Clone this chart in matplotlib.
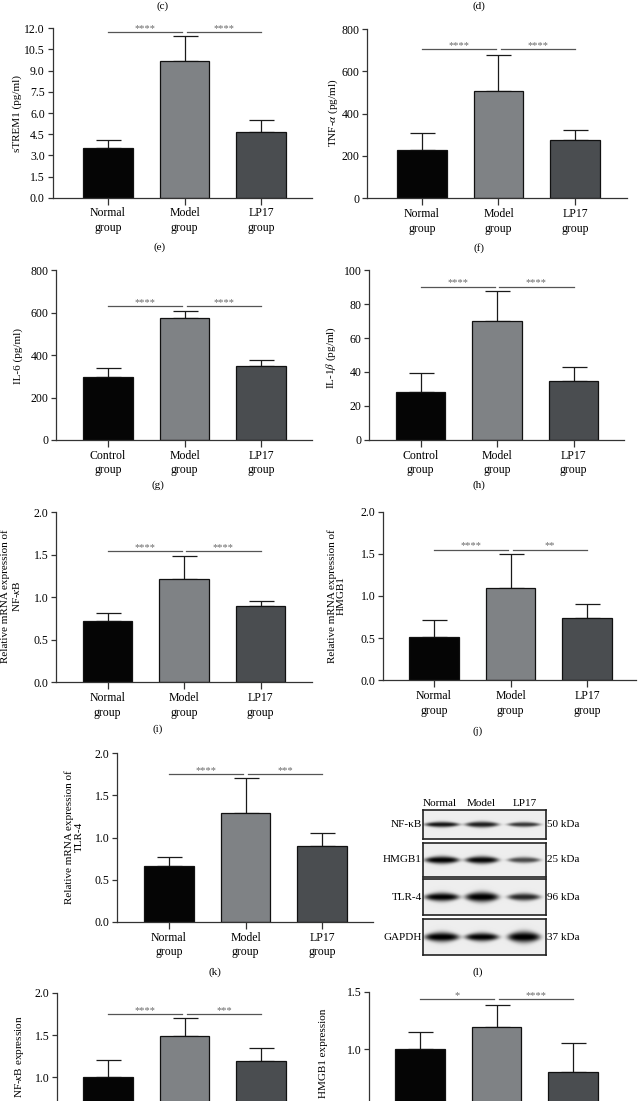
import numpy as np
import matplotlib
matplotlib.use("Agg")
import matplotlib.pyplot as plt

W, H = 638, 1101
DPI = 100
plt.rcParams['font.family'] = ['Liberation Serif', 'DejaVu Serif']
plt.rcParams['mathtext.fontset'] = 'stix'

# ---------------- data ----------------
labels_normal = ["Normal\ngroup", "Model\ngroup", "LP17\ngroup"]
labels_control = ["Control\ngroup", "Model\ngroup", "LP17\ngroup"]

strem1_mean = [3.55, 9.70, 4.67]
strem1_sd = [0.57, 1.73, 0.83]
tnf_mean = [230, 508, 275]
tnf_sd = [78, 168, 48]
il6_mean = [298, 573, 346]
il6_sd = [39, 32, 30]
il1b_mean = [28.2, 70.2, 34.8]
il1b_sd = [11.4, 17.4, 8.3]
nfkb_mrna_mean = [0.72, 1.21, 0.90]
nfkb_mrna_sd = [0.095, 0.28, 0.06]
hmgb1_mrna_mean = [0.515, 1.09, 0.743]
hmgb1_mrna_sd = [0.205, 0.41, 0.157]
tlr4_mrna_mean = [0.665, 1.295, 0.895]
tlr4_mrna_sd = [0.11, 0.415, 0.16]
nfkb_prot_mean = [1.0, 1.49, 1.19]
nfkb_prot_sd = [0.20, 0.21, 0.155]
hmgb1_prot_mean = [1.0, 1.19, 0.80]
hmgb1_prot_sd = [0.15, 0.20, 0.25]

# significance bars: level, left label, right label
sig_strem1 = (11.73, "****", "****")
sig_tnf = (706, "****", "****")
sig_il6 = (629, "****", "****")
sig_il1b = (90.2, "****", "****")
sig_nfkb_mrna = (1.545, "****", "****")
sig_hmgb1_mrna = (1.55, "****", "**")
sig_tlr4_mrna = (1.75, "****", "***")
sig_nfkb_prot = (1.75, "****", "***")
sig_hmgb1_prot = (1.44, "*", "****")

# western blot
blot_proteins = ["NF-κB", "HMGB1", "TLR-4", "GAPDH"]
blot_kda = ["50 kDa", "25 kDa", "96 kDa", "37 kDa"]
blot_lanes = ["Normal", "Model", "LP17"]
blot_intensity = [[0.90, 0.86, 0.76],
                  [0.98, 0.96, 0.68],
                  [0.98, 1.00, 0.82],
                  [1.00, 0.98, 1.00]]
blot_thickness = [[5.5, 6.0, 5.0],
                  [7.5, 7.5, 6.0],
                  [8.5, 10.0, 7.5],
                  [9.5, 8.5, 11.0]]

bar_colors = ["#050505", "#7f8285", "#4a4d50"]

# ---------------- helpers ----------------
fig = plt.figure(figsize=(W / DPI, H / DPI), dpi=DPI)
fig.patch.set_facecolor("white")

FS_T = 8.5   # tick labels
FS_L = 8.0   # axis labels / other text
PXU = 76.5   # pixels per category unit


def fx(x):
    return x / W


def fy(y):
    return 1 - y / H


def bar_panel(x_axis, c0, x_right, top, bottom, ymax, step, fmt,
              means, sds, labels, sig, show_xlabels=True):
    left_u = -(c0 - x_axis) / PXU
    right_u = 2 + (x_right - c0 - 2 * PXU) / PXU
    ax = fig.add_axes([fx(x_axis), fy(bottom), (x_right - x_axis) / W,
                       (bottom - top) / H])
    ax.set_xlim(left_u, right_u)
    ax.set_ylim(0, ymax)
    xs = np.arange(len(means))
    ax.bar(xs, means, width=0.65, color=bar_colors, edgecolor="#111111",
           linewidth=0.9, zorder=2)
    ax.errorbar(xs, means, yerr=[np.zeros(len(sds)), sds], fmt="none",
                ecolor="#1a1a1a", elinewidth=0.9, capsize=9, capthick=0.9,
                zorder=1)
    for s in ["top", "right"]:
        ax.spines[s].set_visible(False)
    for s in ["left", "bottom"]:
        ax.spines[s].set_linewidth(0.9)
        ax.spines[s].set_color("#333333")
    ticks = np.arange(0, ymax + step / 2, step)
    ax.set_yticks(ticks)
    tlabels = []
    for t in ticks:
        ypix = bottom - t / ymax * (bottom - top)
        tlabels.append(fmt.format(t) if ypix < H - 5 else "")
    ax.set_yticklabels(tlabels)
    ax.set_xticks(xs)
    if show_xlabels:
        ax.set_xticklabels(labels, linespacing=1.3)
    else:
        ax.set_xticklabels([])
    ax.tick_params(axis="y", length=3.5, width=0.9, pad=2, labelsize=FS_T,
                   color="#333333")
    ax.tick_params(axis="x", length=5, width=0.9, pad=2.0, labelsize=FS_T,
                   color="#333333")
    ax.patch.set_alpha(0)
    lvl, l1, l2 = sig
    ax.plot([0, 0.97], [lvl, lvl], color="#555555", lw=0.9, clip_on=False)
    ax.plot([1.03, 2.0], [lvl, lvl], color="#555555", lw=0.9, clip_on=False)
    for xm, lab in [(0.485, l1), (1.515, l2)]:
        ax.annotate(lab, xy=(xm, lvl), xytext=(0, 0.8),
                    textcoords="offset points", ha="center", va="baseline",
                    fontsize=7.5, color="#6a6a6a", annotation_clip=False)
    return ax


def ylab(x, y, s):
    fig.text(fx(x), fy(y), s, rotation=90, ha="center", va="center",
             fontsize=FS_L, linespacing=1.05)


def plab(x, y, s):
    fig.text(fx(x), fy(y), s, ha="center", va="center", fontsize=FS_L)


# ---------------- panels ----------------
bar_panel(52.5, 108, 312, 28.3, 197.7, 12.0, 1.5, "{:.1f}",
          strem1_mean, strem1_sd, labels_normal, sig_strem1)
ylab(17, 113, "sTREM1 (pg/ml)")

bar_panel(367, 422, 627, 29, 198.3, 800, 200, "{:.0f}",
          tnf_mean, tnf_sd, labels_normal, sig_tnf)
ylab(333, 113, r"TNF-$\alpha$ (pg/ml)")

bar_panel(56, 108, 312, 270, 440, 800, 200, "{:.0f}",
          il6_mean, il6_sd, labels_control, sig_il6)
ylab(18, 356, "IL-6 (pg/ml)")

bar_panel(369, 420.5, 624, 270, 440, 100, 20, "{:.0f}",
          il1b_mean, il1b_sd, labels_control, sig_il1b)
ylab(331, 358, r"IL-1$\beta$ (pg/ml)")

bar_panel(56, 107.5, 312, 512.3, 682.3, 2.0, 0.5, "{:.1f}",
          nfkb_mrna_mean, nfkb_mrna_sd, labels_normal, sig_nfkb_mrna)
ylab(11, 596, "Relative mRNA expression of\nNF-$\\kappa$B")

bar_panel(383, 434, 636, 511.7, 680.3, 2.0, 0.5, "{:.1f}",
          hmgb1_mrna_mean, hmgb1_mrna_sd, labels_normal, sig_hmgb1_mrna)
ylab(336.5, 596, "Relative mRNA expression of\nHMGB1")

bar_panel(117, 169, 373, 753, 922, 2.0, 0.5, "{:.1f}",
          tlr4_mrna_mean, tlr4_mrna_sd, labels_normal, sig_tlr4_mrna)
ylab(74, 837, "Relative mRNA expression of\nTLR-4")

bar_panel(57, 108, 312, 993, 1161, 2.0, 0.5, "{:.1f}",
          nfkb_prot_mean, nfkb_prot_sd, labels_normal, sig_nfkb_prot,
          show_xlabels=False)
ylab(20, 1057, "NF-$\\kappa$B expression")

bar_panel(369, 420, 624, 992, 1163, 1.5, 0.5, "{:.1f}",
          hmgb1_prot_mean, hmgb1_prot_sd, labels_normal, sig_hmgb1_prot,
          show_xlabels=False)
ylab(324, 1053, "HMGB1 expression")

# panel letters
for x, y, s in [(163, 6, "(c)"), (479, 6, "(d)"), (160, 247, "(e)"),
                (479, 248, "(f)"), (158, 485, "(g)"), (479, 485, "(h)"),
                (158, 729, "(i)"), (478, 731, "(j)"), (215, 972, "(k)"),
                (478, 972, "(l)")]:
    plab(x, y, s)

# ---------------- western blot ----------------
box_x0, box_x1 = 423, 546
rows = [(810, 839), (843, 877), (879, 915), (919, 955)]
lane_x = [442, 482, 524]
lane_hw = [17, 16.5, 16]
for i, (y0, y1) in enumerate(rows):
    ax = fig.add_axes([fx(box_x0), fy(y1), (box_x1 - box_x0) / W,
                       (y1 - y0) / H])
    res = 4
    wpx, hpx = box_x1 - box_x0, y1 - y0
    xx = (np.arange(wpx * res) + 0.5) / res
    yy = (np.arange(hpx * res) + 0.5) / res
    X, Y = np.meshgrid(xx, yy)
    img = np.full_like(X, 0.93)
    yc = hpx / 2.0
    for j in range(3):
        dx = (X - (lane_x[j] - box_x0)) / lane_hw[j]
        half = blot_thickness[i][j] / 2.0 * (0.35 + 0.65 * np.exp(-dx ** 2 * 1.0))
        band = blot_intensity[i][j] * np.exp(-np.abs(dx) ** 5) * \
            np.exp(-(np.abs(Y - yc) / half) ** 2.2)
        img = img - band * 0.95
    img = np.clip(img, 0, 1)
    ax.imshow(img, cmap="gray", vmin=0, vmax=1, aspect="auto",
              interpolation="bilinear")
    ax.set_xticks([])
    ax.set_yticks([])
    for s in ax.spines.values():
        s.set_linewidth(1.2)
        s.set_color("#222222")
    fig.text(fx(box_x0 - 1), fy((y0 + y1) / 2), blot_proteins[i],
             ha="right", va="center", fontsize=FS_L)
    fig.text(fx(box_x1 + 1), fy((y0 + y1) / 2), blot_kda[i],
             ha="left", va="center", fontsize=FS_L)

for x, s in zip([440, 481, 525], blot_lanes):
    fig.text(fx(x), fy(803), s, ha="center", va="center", fontsize=FS_L)

fig.savefig("out.png", dpi=DPI, facecolor="white")
